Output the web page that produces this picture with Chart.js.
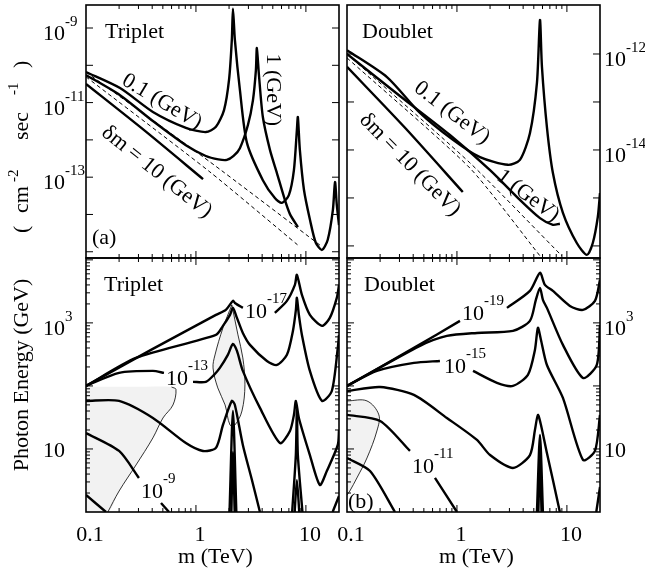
<!DOCTYPE html>
<html>
<head>
<meta charset="utf-8">
<script src="https://cdn.jsdelivr.net/npm/chart.js@4.4.0/dist/chart.umd.min.js"></script>
<style>
  html, body { margin: 0; padding: 0; background: #fff; }
  #wrap { position: relative; width: 645px; height: 569px; }
  canvas { position: absolute; left: 0; top: 0; }
</style>
</head>
<body>
<div id="wrap">
  <canvas id="tl" width="645" height="569"></canvas>
  <canvas id="tr" width="645" height="569"></canvas>
  <canvas id="bl" width="645" height="569"></canvas>
  <canvas id="br" width="645" height="569"></canvas>
</div>
<script>
// ---- axes ----
const X_MIN = 0.1, X_MAX = 20;
const X_MAJOR = [0.1, 1, 10];
const X_MINOR = [0.2, 0.3, 0.4, 0.5, 0.6, 0.7, 0.8, 0.9, 2, 3, 4, 5, 6, 7, 8, 9];
const X_LABELS = ['0.1', '1', '10'];

const TL_Y_RANGE = [6.8e-16, 4.14e-9];
const TL_Y_TICKS = [1e-15, 1e-14, 1e-13, 1e-12, 1e-11, 1e-10, 1e-9];
const TL_Y_LABEL_VALUES = [1e-9, 1e-11, 1e-13];
const TL_Y_LABEL_EXP = ['-9', '-11', '-13'];

const TR_Y_RANGE = [5.6e-17, 1.05e-11];
const TR_Y_TICKS = [1e-16, 1e-15, 1e-14, 1e-13, 1e-12];
const TR_Y_LABEL_VALUES = [1e-12, 1e-14];
const TR_Y_LABEL_EXP = ['-12', '-14'];

const B_Y_RANGE = [1, 1.07e4];
const B_Y_TICKS = [1, 10, 100, 1000, 10000];
const B_Y_MINOR_MANTISSA = [2, 3, 4, 5, 6, 7, 8, 9];
const B_Y_LABEL_VALUES = [1000, 10];
const B_Y_LABEL_EXP = ['3', ''];

// ---- (a) triplet flux, m in TeV, flux in cm^-2 s^-1 ----
const TL_M_01 = [0.1, 0.204, 0.406, 0.81, 1.23, 1.52, 1.80, 2.0, 2.12, 2.17, 2.26, 2.51, 2.91, 4.06, 5.22, 6.05, 7.0, 7.78, 8.28, 8.45, 8.81, 9.6, 10.9, 12.3, 14.0, 15.8, 17.6, 18.4, 19.1, 20];
const TL_F_01 = [6.6e-11, 2.45e-11, 5.6e-12, 2.1e-12, 1.62e-12, 2.24e-12, 6.3e-12, 4.1e-11, 4.8e-10, 3.3e-9, 4.8e-10, 2.2e-11, 8.3e-13, 8.3e-14, 2.75e-14, 2.05e-14, 3.3e-14, 1.55e-13, 1.86e-12, 4.1e-12, 5.4e-13, 4.6e-14, 7.1e-15, 1.74e-15, 1.12e-15, 2.1e-15, 1.32e-14, 7.4e-14, 1.8e-14, 5.2e-15];
const TL_M_1 = [0.1, 0.204, 0.406, 0.81, 1.23, 1.6, 1.91, 2.2, 2.51, 2.97, 3.30, 3.51, 3.58, 3.74, 4.06, 4.71, 5.45, 6.44, 7.16, 8.45];
const TL_F_1 = [5.5e-11, 1.58e-11, 3.2e-12, 7.2e-13, 3.7e-13, 3.0e-13, 2.9e-13, 3.7e-13, 6.0e-13, 2.5e-12, 1.17e-11, 7.4e-11, 2.9e-10, 5.5e-11, 4.1e-12, 5.4e-13, 1.29e-13, 2.45e-14, 1.02e-14, 4.6e-15];
const TL_M_10 = [0.1, 0.344, 1.16];
const TL_F_10 = [3.16e-11, 1.74e-12, 8.9e-14];
const TL_M_DASH_A = [0.1, 1.34, 13.4];
const TL_F_DASH_A = [6.6e-11, 2.57e-13, 1.51e-15];
const TL_M_DASH_B = [0.1, 1.34, 8.45];
const TL_F_DASH_B = [4.9e-11, 1.38e-13, 1.51e-15];

// ---- (a) doublet flux ----
const TR_M_01 = [0.1, 0.231, 0.461, 0.92, 1.62, 2.91, 3.74, 4.61, 5.34, 5.69, 5.93, 6.58, 7.46, 9.2, 12.3, 15.2, 17.2, 19.1, 20];
const TR_F_01 = [1.2e-12, 3.3e-13, 5.9e-14, 1.62e-14, 7.1e-15, 4.9e-15, 6.2e-15, 2.24e-14, 2.5e-13, 5.1e-12, 5.4e-13, 3.0e-14, 3.3e-15, 4.9e-16, 1.15e-16, 6.5e-17, 1.15e-16, 4.0e-16, 1.26e-15];
const TR_M_1 = [0.1, 0.303, 0.863, 2.0, 3.74, 5.69, 7.46, 8.63];
const TR_F_1 = [1.0e-12, 1.33e-13, 2.05e-14, 3.8e-15, 9.1e-16, 3.8e-16, 2.75e-16, 2.9e-16];
const TR_M_10 = [0.1, 0.337, 1.13];
const TR_F_10 = [5.4e-13, 2.9e-14, 1.33e-15];
const TR_M_DASH_A = [0.1, 1.31, 9.0];
const TR_F_DASH_A = [1.0e-12, 5.4e-15, 6.2e-17];
const TR_M_DASH_B = [0.1, 1.31, 5.69];
const TR_F_DASH_B = [8.3e-13, 4.2e-15, 6.2e-17];

// ---- (b) triplet contours, photon energy in GeV (null = gap) ----
const BL_M_17 = [0.1, 0.39, 1.52, 1.87, 2.17, 2.26, 2.67, null, 5.22, 6.72, 7.94, 8.28, 9.2, 10.87, 14.0, 16.5, 19.1, 20];
const BL_E_17 = [100, 373, 1340, 1610, 2235, 2075, 1730, null, 1440, 2235, 4010, 5780, 2780, 1340, 896, 1200, 2500, 4000];
const BL_M_15 = [0.1, 0.285, 1.52, 1.76, 2.04, 2.17, 2.36, 2.67, 3.10, 4.42, 5.45, 6.72, 7.62, 8.11, 8.28, 8.63, 9.2, 10.87, 14.0, 17.2, 19.5, 20];
const BL_E_15 = [100, 278, 645, 896, 1340, 1730, 1200, 693, 448, 249, 215, 311, 746, 1610, 2500, 1340, 645, 173, 57.8, 83, 401, 645];
const BL_M_13 = [0.1, 0.2, 0.406, 0.512, null, 0.94, 1.23, 1.46, 1.65, 1.95, 2.17, 2.36, 2.67, 3.82, 5.81, 7.16, 7.78, 8.11, 8.63, 10.87, 13.4, 15.5, 19.5, 20];
const BL_E_13 = [100, 161, 173, 161, null, 116, 116, 150, 193, 311, 464, 359, 173, 44.8, 12.4, 19.3, 34.7, 57.8, 31, 8.0, 2.68, 4.47, 11.6, 20];
const BL_M_11 = [0.1, 0.2, 0.406, 0.81, 1.16, 1.52, 1.76, 2.12, 2.26, 2.67, 3.23, 3.82, null, 7.5, 8.1, 8.28, 8.45, 9.3, null, 17.5, 20];
const BL_E_11 = [57.8, 57.8, 31, 12.4, 9.3, 10.4, 24, 57.8, 49.9, 11.6, 3.22, 1, null, 1, 8, 42, 8, 1, null, 1, 1.8];
const BL_M_9 = [0.1, 0.2, 0.303, null, 0.481, 0.569, null, 2.02, 2.17, 2.33, null, 7.9, 8.28, 8.7];
const BL_E_9 = [17.9, 9.3, 3.47, null, 1.39, 1.0, null, 1, 40, 1, null, 1, 3.2, 1];
const BL_M_7 = [0.1, 0.152, null, 2.1, 2.17, 2.25];
const BL_E_7 = [1.86, 1.0, null, 1, 9, 1];
const BL_SHADE1_M = [0.1, 0.35, 0.6, 0.658, 0.618, 0.501, 0.406, 0.285, 0.2, 0.158, 0.1];
const BL_SHADE1_E = [97, 97, 96, 88, 49.9, 31, 15, 5.57, 2.15, 1, 1];
const BL_SHADE2_M = [2.12, 1.76, 1.49, 1.43, 1.58, 1.84, 2.04, 2.26, 2.62, 2.79, 2.67, 2.41, 2.12];
const BL_SHADE2_E = [1932, 834, 310, 193, 93, 50, 24, 24, 40, 104, 278, 646, 1932];

// ---- (b) doublet contours ----
const BR_M_19 = [0.1, 0.406, 1.065, null, 2.85, 4.61, 5.69, 6.31, 7.46, 10.65, 14.0, 18.0, 20];
const BR_E_19 = [100, 401, 1076, null, 1730, 3220, 6220, 4010, 3220, 1860, 1610, 2235, 4820];
const BR_M_17 = [0.1, 0.461, 0.81, 1.52, 3.23, 4.61, 5.22, 5.69, 6.05, 6.58, 9.2, 14.0, 18.7, 20];
const BR_E_17 = [100, 432, 622, 693, 746, 1076, 2317, 3590, 2317, 1730, 448, 134, 215, 930];
const BR_M_15 = [0.1, 0.187, 0.406, 0.70, null, 1.40, 2.31, 3.23, 4.42, 5.12, 5.45, 5.81, 6.58, 9.2, 14.0, 18.0, 20];
const BR_E_15 = [100, 173, 232, 249, null, 173, 112, 100, 150, 373, 834, 537, 215, 64.5, 6.7, 9.3, 34.7];
const BR_M_13 = [0.1, 0.2, 0.406, 0.81, 1.52, 2.0, 3.23, 4.61, 5.12, 5.45, 5.81, 6.58, 7.46, 8.63, null, 18.5, 20];
const BR_E_13 = [83, 96, 72, 31, 13.9, 8.0, 5.0, 8.0, 20, 34.7, 24, 8.6, 3.22, 1, null, 1, 2.5];
const BR_M_11 = [0.1, 0.2, 0.374, null, 0.631, 1.0, null, 5.34, 5.69, 6.05];
const BR_E_11 = [34.7, 27.8, 9.3, null, 3.47, 1, null, 1, 16.7, 1];
const BR_M_9 = [0.1, 0.162, 0.273, null, 5.5, 5.69, 5.88];
const BR_E_9 = [7.2, 4.47, 1, null, 1, 7, 1];
const BR_SHADE_M = [0.1, 0.152, 0.195, 0.187, 0.152, 0.123, 0.106, 0.1];
const BR_SHADE_E = [57.8, 57.8, 34.7, 19.3, 7.2, 3.47, 2.15, 1.86];

const FONT = '"Liberation Serif", "Times New Roman", serif';

function pts(ms, vs) {
  return ms.map((m, i) => ({ x: m, y: vs[i] }));
}

function solid(ms, vs) {
  return { data: pts(ms, vs), showLine: true, borderColor: '#000', borderWidth: 2.4,
           pointRadius: 0, tension: 0.25, fill: false, spanGaps: false, order: 1 };
}

function dashed(ms, vs) {
  return { data: pts(ms, vs), showLine: true, borderColor: '#000', borderWidth: 1,
           borderDash: [4, 3], pointRadius: 0, tension: 0.2, fill: false, order: 2 };
}

function thin(ms, vs) {
  return { data: pts(ms, vs), showLine: true, borderColor: '#000', borderWidth: 0.8,
           pointRadius: 0, tension: 0.35, fill: false, order: 3 };
}

function shade(ms, vs) {
  return { data: pts(ms, vs), showLine: true, borderWidth: 0, borderColor: 'rgba(0,0,0,0)',
           backgroundColor: '#f2f2f2', pointRadius: 0, tension: 0.35, fill: 'shape', order: 9 };
}

function seg(ctx, x1, y1, x2, y2) {
  ctx.beginPath(); ctx.moveTo(x1, y1); ctx.lineTo(x2, y2); ctx.stroke();
}

function pow10(ctx, exp, x, y, size, lift) {
  ctx.font = size + 'px ' + FONT;
  ctx.fillText('10', x, y);
  const w = ctx.measureText('10').width;
  if (exp) {
    ctx.font = Math.round(size * 0.7) + 'px ' + FONT;
    ctx.fillText(exp, x + w, y - lift);
  }
}

const deco = {
  id: 'deco',
  afterDraw(chart, args, o) {
    const { ctx, chartArea: a } = chart;
    const xs = chart.scales.x, ys = chart.scales.y;
    ctx.save();
    ctx.strokeStyle = '#000';
    ctx.fillStyle = '#000';
    ctx.lineWidth = 1;

    // x ticks, pointing inward on bottom and top edges
    X_MAJOR.concat(X_MINOR).forEach((v, i) => {
      const len = i < X_MAJOR.length ? 7 : 4;
      const p = xs.getPixelForValue(v);
      if (p <= a.left + 1 || p >= a.right - 1) return;
      seg(ctx, p, a.bottom, p, a.bottom - len);
      seg(ctx, p, a.top, p, a.top + len);
    });
    // y ticks on both edges
    const yTick = (v, len) => {
      const p = ys.getPixelForValue(v);
      if (p <= a.top + 1 || p >= a.bottom - 1) return;
      seg(ctx, a.left, p, a.left + len, p);
      seg(ctx, a.right, p, a.right - len, p);
    };
    o.yTicks.forEach(v => yTick(v, 7));
    if (o.yMinor) {
      o.yTicks.forEach(d => B_Y_MINOR_MANTISSA.forEach(k => yTick(d * k, 4)));
    }

    ctx.lineWidth = 1.6;
    ctx.strokeRect(a.left, a.top, a.right - a.left, a.bottom - a.top);

    ctx.textAlign = 'left';
    ctx.textBaseline = 'alphabetic';

    // y tick labels
    o.yLabelValues.forEach((v, i) => {
      const p = ys.getPixelForValue(v);
      const exp = o.yLabelExp[i];
      const x = o.ySide === 'left' ? a.left - 43 : a.right + 4;
      pow10(ctx, exp, x, p + (exp ? 12 : 8), 22, 14);
    });

    // x tick labels
    if (o.xLabels) {
      ctx.font = '22px ' + FONT;
      ctx.textAlign = 'center';
      X_MAJOR.forEach((v, i) => {
        ctx.fillText(X_LABELS[i], xs.getPixelForValue(v) + 4, a.bottom + 29);
      });
      ctx.fillText('m (TeV)', (a.left + a.right) / 2 + 3, a.bottom + 51);
      ctx.textAlign = 'left';
    }

    // panel name and tag
    ctx.font = '22px ' + FONT;
    ctx.fillText(o.title, a.left + o.titleDx, a.top + 33);
    if (o.tag) ctx.fillText(o.tag, a.left + o.tagDx, a.bottom - o.tagDy);

    // rotated curve labels
    (o.notes || []).forEach(n => {
      ctx.save();
      ctx.translate(xs.getPixelForValue(n.m), ys.getPixelForValue(n.v));
      ctx.rotate(n.rot * Math.PI / 180);
      ctx.font = '22px ' + FONT;
      ctx.textAlign = 'center';
      ctx.textBaseline = 'middle';
      ctx.fillText(n.text, 0, 0);
      ctx.restore();
    });

    // contour level labels
    (o.levels || []).forEach(n => {
      pow10(ctx, n.exp, xs.getPixelForValue(n.m), ys.getPixelForValue(n.v), 22, 15);
    });

    // y axis titles
    if (o.fluxTitle) {
      ctx.save();
      ctx.translate(a.left - 58, a.top + 228);
      ctx.rotate(-Math.PI / 2);
      ctx.font = '22px ' + FONT;
      ctx.fillText('(', 0, 0);
      ctx.fillText('cm', 20, 0);
      ctx.fillText('sec', 93, 0);
      ctx.fillText(')', 165, 0);
      ctx.font = '15px ' + FONT;
      ctx.fillText('-2', 51, -10);
      ctx.fillText('-1', 138, -10);
      ctx.restore();
    }
    if (o.energyTitle) {
      ctx.save();
      ctx.translate(a.left - 58, a.top + 117);
      ctx.rotate(-Math.PI / 2);
      ctx.font = '22px ' + FONT;
      ctx.textAlign = 'center';
      ctx.fillText('Photon Energy (GeV)', 0, 0);
      ctx.restore();
    }
    ctx.restore();
  }
};

function panel(id, pad, yRange, datasets, opts) {
  return new Chart(document.getElementById(id), {
    type: 'scatter',
    data: { datasets },
    options: {
      responsive: false,
      animation: false,
      events: [],
      layout: { padding: pad },
      plugins: { legend: { display: false }, tooltip: { enabled: false }, deco: opts },
      scales: {
        x: { type: 'logarithmic', min: X_MIN, max: X_MAX, display: false },
        y: { type: 'logarithmic', min: yRange[0], max: yRange[1], display: false }
      }
    },
    plugins: [deco]
  });
}

panel('tl', { left: 86, top: 5, right: 306, bottom: 311 }, TL_Y_RANGE, [
  solid(TL_M_01, TL_F_01),
  solid(TL_M_1, TL_F_1),
  solid(TL_M_10, TL_F_10),
  dashed(TL_M_DASH_A, TL_F_DASH_A),
  dashed(TL_M_DASH_B, TL_F_DASH_B)
], {
  yTicks: TL_Y_TICKS, yLabelValues: TL_Y_LABEL_VALUES, yLabelExp: TL_Y_LABEL_EXP, ySide: 'left',
  title: 'Triplet', titleDx: 19, tag: '(a)', tagDx: 6, tagDy: 14, fluxTitle: true,
  notes: [
    { text: '0.1 (GeV)', m: 0.49, v: 1.05e-11, rot: 31 },
    { text: '1 (GeV)', m: 5.0, v: 2.2e-11, rot: 90 },
    { text: 'δm = 10 (GeV)', m: 0.44, v: 1.38e-13, rot: 38.7 }
  ]
});

panel('tr', { left: 347, top: 5, right: 45, bottom: 311 }, TR_Y_RANGE, [
  solid(TR_M_01, TR_F_01),
  solid(TR_M_1, TR_F_1),
  solid(TR_M_10, TR_F_10),
  dashed(TR_M_DASH_A, TR_F_DASH_A),
  dashed(TR_M_DASH_B, TR_F_DASH_B)
], {
  yTicks: TR_Y_TICKS, yLabelValues: TR_Y_LABEL_VALUES, yLabelExp: TR_Y_LABEL_EXP, ySide: 'right',
  title: 'Doublet', titleDx: 15,
  notes: [
    { text: '0.1 (GeV)', m: 0.9, v: 5.9e-14, rot: 37.6 },
    { text: '1 (GeV)', m: 4.42, v: 1.1e-15, rot: 37 },
    { text: 'δm = 10 (GeV)', m: 0.374, v: 4.9e-15, rot: 45.6 }
  ]
});

panel('bl', { left: 86, top: 258, right: 306, bottom: 57 }, B_Y_RANGE, [
  shade(BL_SHADE1_M, BL_SHADE1_E),
  thin(BL_SHADE1_M.slice(2, 10), BL_SHADE1_E.slice(2, 10)),
  shade(BL_SHADE2_M, BL_SHADE2_E),
  thin(BL_SHADE2_M, BL_SHADE2_E),
  solid(BL_M_17, BL_E_17),
  solid(BL_M_15, BL_E_15),
  solid(BL_M_13, BL_E_13),
  solid(BL_M_11, BL_E_11),
  solid(BL_M_9, BL_E_9),
  solid(BL_M_7, BL_E_7)
], {
  yTicks: B_Y_TICKS, yMinor: true, yLabelValues: B_Y_LABEL_VALUES, yLabelExp: B_Y_LABEL_EXP, ySide: 'left',
  title: 'Triplet', titleDx: 18, xLabels: true, energyTitle: true,
  levels: [
    { exp: '-17', m: 2.79, v: 1200 },
    { exp: '-13', m: 0.533, v: 104 },
    { exp: '-9', m: 0.316, v: 1.67 }
  ]
});

panel('br', { left: 347, top: 258, right: 45, bottom: 57 }, B_Y_RANGE, [
  shade(BR_SHADE_M, BR_SHADE_E),
  thin(BR_SHADE_M, BR_SHADE_E),
  solid(BR_M_19, BR_E_19),
  solid(BR_M_17, BR_E_17),
  solid(BR_M_15, BR_E_15),
  solid(BR_M_13, BR_E_13),
  solid(BR_M_11, BR_E_11),
  solid(BR_M_9, BR_E_9)
], {
  yTicks: B_Y_TICKS, yMinor: true, yLabelValues: B_Y_LABEL_VALUES, yLabelExp: B_Y_LABEL_EXP, ySide: 'right',
  title: 'Doublet', titleDx: 17, tag: '(b)', tagDx: 1, tagDy: 4, xLabels: true,
  levels: [
    { exp: '-19', m: 1.11, v: 1117 },
    { exp: '-15', m: 0.762, v: 161 },
    { exp: '-11', m: 0.39, v: 4.16 }
  ]
});
</script>
</body>
</html>
